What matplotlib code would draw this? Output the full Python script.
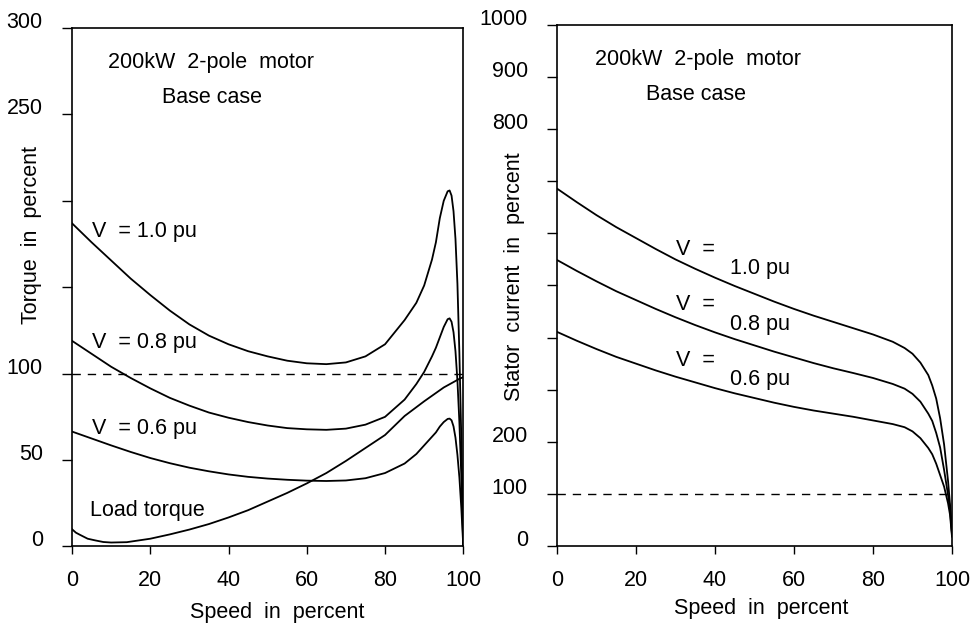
import matplotlib
matplotlib.use('Agg')
import matplotlib.pyplot as plt

plt.rcParams['font.family'] = ['Liberation Sans', 'DejaVu Sans']

# speed in percent for the torque curves
torque_speed = [0, 5, 10, 15, 20, 25, 30, 35, 40, 45, 50, 55, 60, 65, 70, 75,
                80, 85, 88, 90, 92, 93, 94, 95, 96, 96.5, 97, 97.5, 98, 98.5,
                99, 99.5, 100]

torque_10 = [187, 176, 165.5, 155, 145.5, 136.5, 128.5, 122, 117, 113, 110,
             107.5, 106, 105.5, 106.5, 110, 117, 131, 141, 151, 166, 176, 190,
             200, 205.5, 206, 203, 194, 178, 152, 112, 62, 0]
torque_08 = [119, 111.5, 104, 97.5, 91.5, 86, 81.5, 77.5, 74.5, 72, 70, 68.5,
             67.8, 67.5, 68.2, 70.5, 75, 85, 94, 101, 110, 115, 121, 127,
             131.5, 132, 130, 124, 113, 96, 72, 40, 0]
torque_06 = [66.5, 62.5, 58.5, 54.7, 51.2, 48.2, 45.6, 43.5, 41.7, 40.3, 39.3,
             38.6, 38.1, 37.9, 38.2, 39.5, 42.5, 48, 53.5, 58.5, 63.5, 66,
             69.4, 72, 73.8, 74, 73, 69.5, 63, 53, 40, 22, 0]

load_speed = [0, 1, 2, 4, 6, 8, 10, 14, 20, 25, 30, 35, 40, 45, 50, 55, 60,
              65, 70, 75, 80, 85, 90, 95, 99, 100]
load_torque = [10, 8, 6.8, 4.5, 3.5, 2.6, 2.3, 2.5, 4.5, 7, 9.8, 13, 16.8, 21,
               26, 31, 36.5, 42.5, 49.5, 57, 64.5, 75.5, 84, 92, 97, 98]

# speed in percent for the stator current curves
current_speed = [0, 5, 10, 15, 20, 25, 30, 35, 40, 45, 50, 55, 60, 65, 70, 75,
                 80, 85, 88, 90, 92, 94, 95, 96, 97, 98, 99, 99.5, 100]

current_10 = [686, 660, 635, 612, 591, 570, 550, 532, 515, 499, 484, 469, 455,
              442, 430, 418, 406, 392, 380, 369, 352, 328, 308, 283, 245, 195,
              125, 80, 25]
current_08 = [549, 528, 508, 489, 472, 455, 439, 424, 410, 397, 385, 373, 362,
              351, 341, 332, 322.5, 311, 302, 292, 277, 254, 240, 217, 189,
              146, 98, 70, 22]
current_06 = [411, 394, 378, 363, 350, 337, 325, 314, 303, 293, 284, 275, 267,
              260, 254, 248, 241, 234, 228, 220, 207, 188, 176, 158, 136, 114,
              82, 60, 18]

torque_ticks = [0, 50, 100, 150, 200, 250, 300]
torque_labels = ['0', '50', '100', '', '', '250', '300']
current_ticks = [0, 100, 200, 300, 400, 500, 600, 700, 800, 900, 1000]
current_labels = ['0', '100', '200', '', '', '', '', '', '800', '900', '1000']
speed_ticks = [0, 20, 40, 60, 80, 100]

FS = 15.5
LW = 1.3

fig = plt.figure(figsize=(9.77, 6.26), dpi=100)
ax1 = fig.add_axes([0.0737, 0.1270, 0.4005, 0.8283])
ax2 = fig.add_axes([0.5701, 0.1278, 0.4043, 0.8323])


def style_axes(ax, yticks, ylabels):
    ax.set_xlim(0, 100)
    ax.set_xticks(speed_ticks)
    ax.set_yticks(yticks)
    ax.set_yticklabels(ylabels)
    ax.set_ylim(yticks[0], yticks[-1])
    ax.tick_params(axis='x', direction='out', length=6, width=1, pad=11,
                   labelsize=FS)
    ax.tick_params(axis='y', direction='out', length=7, width=1, pad=14,
                   labelsize=FS)
    plt.setp(ax.get_yticklabels(), va='baseline')
    for spine in ax.spines.values():
        spine.set_linewidth(1.2)
    ax.set_xlabel('Speed  in  percent', fontsize=FS)


# left panel: torque
ax1.plot(torque_speed, torque_10, color='black', lw=LW)
ax1.plot(torque_speed, torque_08, color='black', lw=LW)
ax1.plot(torque_speed, torque_06, color='black', lw=LW)
ax1.plot(load_speed, load_torque, color='black', lw=LW)
ax1.axhline(100, color='black', lw=1, dashes=(6, 5))
style_axes(ax1, torque_ticks, torque_labels)
ax1.set_ylabel('Torque  in  percent', fontsize=FS)
ax1.yaxis.set_label_coords(-0.077, 0.60)
ax1.xaxis.set_label_coords(0.524, -0.108)

ax1.text(9.3, 280, '200kW  2-pole  motor', fontsize=FS, va='center')
ax1.text(22.9, 260, 'Base case', fontsize=FS, va='center')
ax1.text(5.1, 182, 'V  = 1.0 pu', fontsize=FS, va='center')
ax1.text(5.1, 118, 'V  = 0.8 pu', fontsize=FS, va='center')
ax1.text(5.1, 68, 'V  = 0.6 pu', fontsize=FS, va='center')
ax1.text(4.6, 20.6, 'Load torque', fontsize=FS, va='center')

# right panel: stator current
ax2.plot(current_speed, current_10, color='black', lw=LW)
ax2.plot(current_speed, current_08, color='black', lw=LW)
ax2.plot(current_speed, current_06, color='black', lw=LW)
ax2.axhline(100, color='black', lw=1, dashes=(6, 5))
style_axes(ax2, current_ticks, current_labels)
ax2.set_ylabel('Stator  current  in  percent', fontsize=FS)
ax2.yaxis.set_label_coords(-0.081, 0.516)
ax2.xaxis.set_label_coords(0.518, -0.100)

ax2.text(9.6, 933, '200kW  2-pole  motor', fontsize=FS, va='center')
ax2.text(22.6, 866, 'Base case', fontsize=FS, va='center')
ax2.text(30.2, 569, 'V  =', fontsize=FS, va='center')
ax2.text(43.9, 532, '1.0 pu', fontsize=FS, va='center')
ax2.text(30.2, 463, 'V  =', fontsize=FS, va='center')
ax2.text(43.9, 425, '0.8 pu', fontsize=FS, va='center')
ax2.text(30.2, 356, 'V  =', fontsize=FS, va='center')
ax2.text(43.9, 319, '0.6 pu', fontsize=FS, va='center')

fig.savefig('out.png', dpi=100)
